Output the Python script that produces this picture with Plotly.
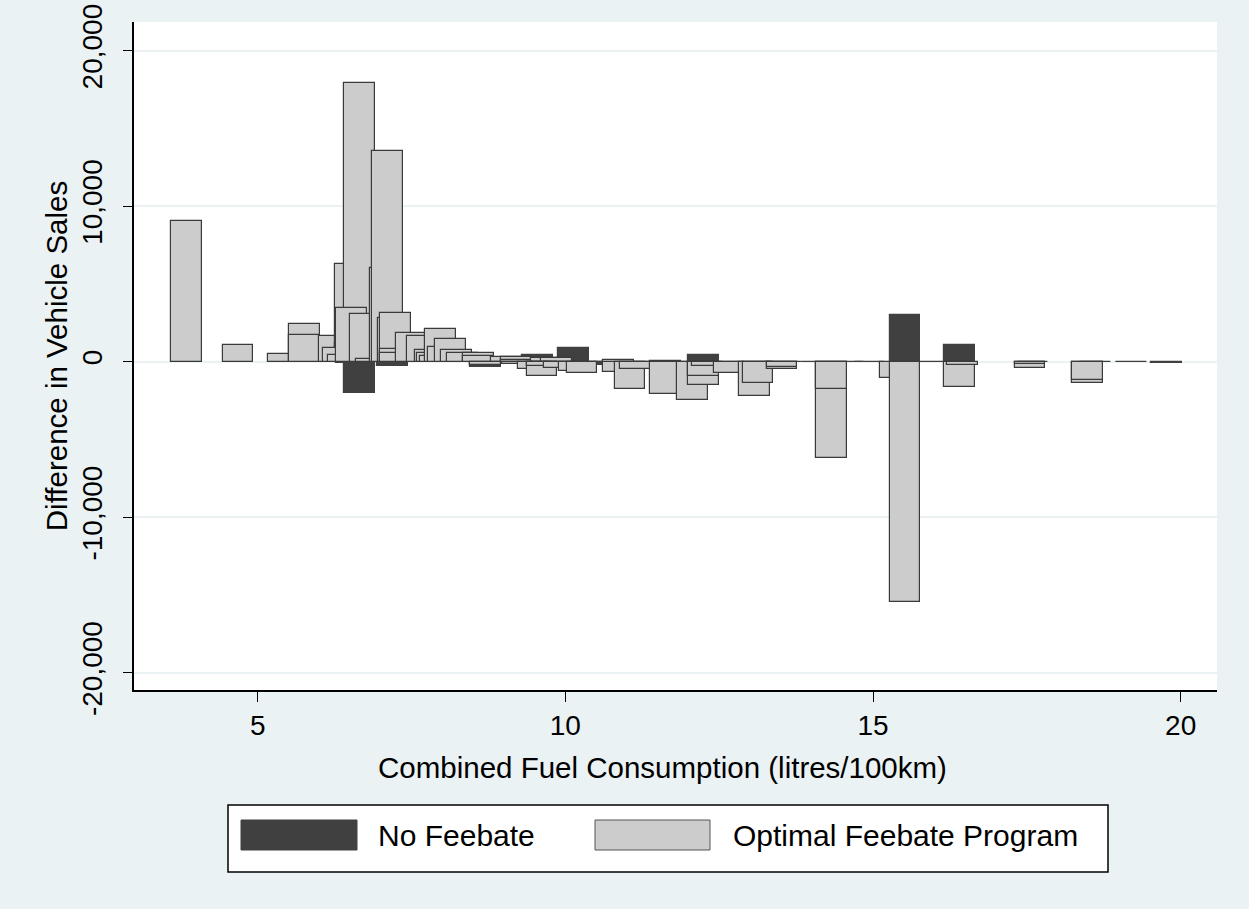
import plotly.graph_objects as go

# ---------------- data ----------------
# Optimal Feebate Program (light bars) in drawing order
opt_x = [3.84, 4.68, 5.42, 5.76, 5.76, 6.24, 6.50, 6.50, 6.31, 6.39,
         6.65, 6.53, 6.75, 6.85, 7.08, 7.11, 7.20, 7.24, 7.24, 7.24,
         7.50, 7.67, 7.80, 7.84, 7.88, 7.97, 8.02, 8.13, 8.23, 8.33,
         8.59, 8.59, 9.04, 9.21, 9.21, 9.69, 9.86,
         8.70, 9.22, 9.48, 9.62, 9.62, 9.91, 10.14, 10.27, 10.86, 10.86,
         11.05, 11.14, 11.63, 11.63, 12.06, 12.24, 12.24, 12.30, 12.66,
         13.07, 13.13, 13.52, 13.52, 14.33, 14.33, 15.37, 15.52,
         16.40, 16.45, 17.55, 17.55, 18.49, 18.49]
opt_y = [9050, 1050, 490, 2420, 1720, 1680, 6260, 1180, 860, 430,
         17900, 3430, 3050, 170, 6000, 13530, 2800, 3110, 800, 540,
         1865, 1670, 750, 560, 370, 2100, 960, 1440, 730, 580,
         540, 370, 283, 280, 100, 260, 220,
         -200, -170, -470, -920, -280, -385, -600, -700, -640, 100,
         -1780, -490, -2100, 60, -2460, -1500, -920, -280, -750,
         -2200, -1350, -470, -320, -6170, -1780, -1030, -15450,
         -1600, -210, -425, -150, -1350, -1180]

# No Feebate (dark bars)
nof_x = [6.53, 6.65, 7.19, 8.70, 9.55, 9.75, 10.13, 10.36, 10.6, 11.1,
         11.6, 12.1, 12.24, 12.6, 13.1, 13.6, 14.1, 14.6, 14.95, 15.52,
         15.93, 16.40, 17.6, 18.62, 19.2, 19.77]
nof_y = [-100, -2000, -280, -320, 430, -100, 860, -200, -40, -40,
         -40, -40, 430, -40, -40, -40, -40, -40, -40, 3000,
         -30, 1075, -30, -30, -30, -90]

series_names = ["No Feebate", "Optimal Feebate Program"]
y_tick_vals = [-20000, -10000, 0, 10000, 20000]
y_tick_text = ["-20,000", "-10,000", "0", "10,000", "20,000"]
x_tick_vals = [5, 10, 15, 20]
x_tick_text = ["5", "10", "15", "20"]
x_title = "Combined Fuel Consumption (litres/100km)"
y_title = "Difference in Vehicle Sales"

# ---------------- styling ----------------
FONT = "Liberation Sans, Arial, sans-serif"
BG = "#EAF2F3"
DARK = "#404040"
LIGHT = "#CCCCCC"
W, H = 1249, 909
L, R, T, B = 134, 32, 22, 219
PW, PH = W - L - R, H - T - B


def px(x):
    return (x - L) / PW


def py(y):
    return (H - B - y) / PH


fig = go.Figure()
fig.add_trace(go.Bar(x=nof_x, y=nof_y, width=0.5, name=series_names[0],
                     marker=dict(color=DARK, line=dict(color=DARK, width=1.2)),
                     showlegend=False))
fig.add_trace(go.Bar(x=opt_x, y=opt_y, width=0.5, name=series_names[1],
                     marker=dict(color=LIGHT, line=dict(color="#3a3a3a", width=1.2)),
                     showlegend=False))

# legend drawn manually (big swatches like the original)
shapes = [
    dict(type="rect", xref="paper", yref="paper", x0=px(228), x1=px(1108),
         y0=py(872), y1=py(805), line=dict(color="black", width=1.5),
         fillcolor="white", layer="above"),
    dict(type="rect", xref="paper", yref="paper", x0=px(241), x1=px(357),
         y0=py(850), y1=py(820), line=dict(color=DARK, width=1),
         fillcolor=DARK, layer="above"),
    dict(type="rect", xref="paper", yref="paper", x0=px(595), x1=px(710),
         y0=py(850), y1=py(820), line=dict(color="#555555", width=1),
         fillcolor=LIGHT, layer="above"),
]
annotations = [
    dict(text=series_names[0], xref="paper", yref="paper", x=px(376), y=py(836),
         xanchor="left", yanchor="middle", showarrow=False,
         font=dict(family=FONT, size=30, color="black")),
    dict(text=series_names[1], xref="paper", yref="paper", x=px(731), y=py(836),
         xanchor="left", yanchor="middle", showarrow=False,
         font=dict(family=FONT, size=30, color="black")),
    dict(text=x_title, xref="paper", yref="paper", x=px(662), y=py(767),
         xanchor="center", yanchor="middle", showarrow=False,
         font=dict(family=FONT, size=29.5, color="black")),
]

fig.update_layout(
    width=W, height=H,
    margin=dict(l=L, r=R, t=T, b=B, autoexpand=False),
    paper_bgcolor=BG, plot_bgcolor="white",
    barmode="overlay", bargap=0,
    font=dict(family=FONT, size=28, color="black"),
    shapes=shapes, annotations=annotations,
    xaxis=dict(range=[2.99, 20.59], tickvals=x_tick_vals, ticktext=x_tick_text,
               showgrid=False, zeroline=False, showline=True, linecolor="black",
               linewidth=1.5, ticks="outside", ticklen=10, tickcolor="black",
               tickwidth=1.2, tickfont=dict(size=28), automargin=False),
    yaxis=dict(range=[-21110, 21850], tickvals=y_tick_vals, ticktext=y_tick_text,
               showgrid=True, gridcolor=BG, gridwidth=2, zeroline=False,
               showline=True, linecolor="black", linewidth=1.5,
               ticks="outside", ticklen=9, tickcolor="black", tickwidth=1.2,
               tickangle=-90, tickfont=dict(size=28), automargin=False,
               ticklabelstandoff=10,
               title=dict(text=y_title, font=dict(size=29.5), standoff=1)),
)

fig.write_html("out.html",
               config={"displayModeBar": False},
               post_script="document.body.style.margin='0';"
                           "document.body.style.background='#EAF2F3';")
